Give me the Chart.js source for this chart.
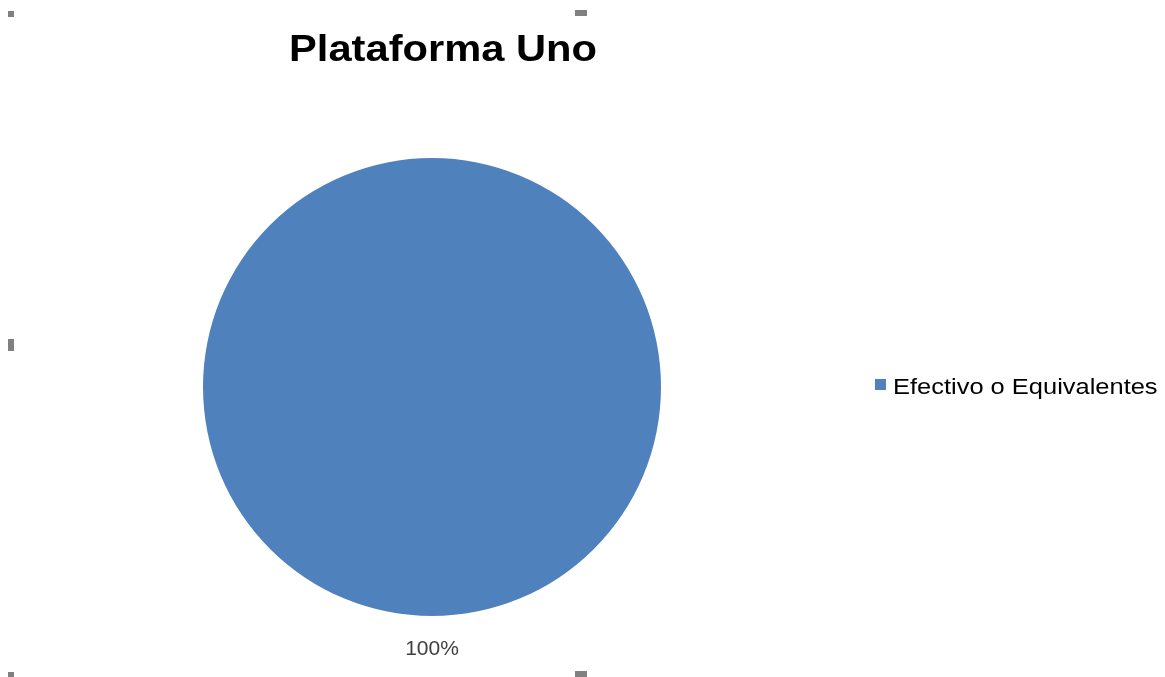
<!DOCTYPE html>
<html lang="es">
<head>
<meta charset="utf-8">
<title>Plataforma Uno</title>
<script src="https://cdn.jsdelivr.net/npm/chart.js@4/dist/chart.umd.min.js"></script>
<style>
    html, body { margin: 0; padding: 0; background: #fff; }
    #wrap { position: relative; width: 1165px; height: 677px; }
    .handle { position: absolute; background: #808080; }
</style>
</head>
<body>
<div id="wrap">
    <canvas id="pieChart"></canvas>
    <!-- tiradores de selección del gráfico -->
    <div class="handle" style="left:8px;top:11px;width:6px;height:6px"></div>
    <div class="handle" style="left:575px;top:10px;width:12px;height:6px"></div>
    <div class="handle" style="left:8px;top:339px;width:6px;height:12px"></div>
    <div class="handle" style="left:8px;top:672px;width:6px;height:6px"></div>
    <div class="handle" style="left:575px;top:671px;width:12px;height:6px"></div>
</div>
<script>
const chartTitle = 'Plataforma Uno';
const categories = ['Efectivo o Equivalentes'];
const values = [100];
const sliceColors = ['#4F81BD'];

// Título, leyenda y etiqueta de porcentaje dibujados a mano (estilo Excel)
const excelDecor = {
    id: 'excelDecor',
    afterDraw(chart) {
        const ctx = chart.ctx;
        const arcs = chart.getDatasetMeta(0).data;
        const total = values.reduce((a, b) => a + b, 0);

        // título
        ctx.save();
        ctx.fillStyle = '#000';
        ctx.font = 'bold 36px "Liberation Sans", Arial, sans-serif';
        ctx.textAlign = 'center';
        ctx.textBaseline = 'alphabetic';
        ctx.translate(443, 61);
        ctx.scale(1.157, 1);
        ctx.fillText(chartTitle, 0, 0);
        ctx.restore();

        // leyenda a la derecha
        categories.forEach((cat, i) => {
            const y = 379 + i * 30;
            ctx.save();
            ctx.fillStyle = sliceColors[i];
            ctx.fillRect(875, y, 11, 11);
            ctx.fillStyle = '#000';
            ctx.font = '22px "Liberation Sans", Arial, sans-serif';
            ctx.textAlign = 'left';
            ctx.textBaseline = 'alphabetic';
            ctx.translate(893, y + 15);
            ctx.scale(1.157, 1);
            ctx.fillText(cat, 0, 0);
            ctx.restore();
        });

        // etiqueta de porcentaje debajo del sector
        arcs.forEach((arc, i) => {
            const pct = Math.round(values[i] / total * 100) + '%';
            ctx.save();
            ctx.fillStyle = '#404040';
            ctx.font = '21px "Liberation Sans", Arial, sans-serif';
            ctx.textAlign = 'center';
            ctx.textBaseline = 'alphabetic';
            ctx.fillText(pct, arc.x, arc.y + arc.outerRadius + 39);
            ctx.restore();
        });
    }
};

new Chart(document.getElementById('pieChart'), {
    type: 'pie',
    data: {
        labels: categories,
        datasets: [{
            data: values,
            backgroundColor: sliceColors,
            borderWidth: 0
        }]
    },
    options: {
        responsive: true,
        maintainAspectRatio: false,
        animation: false,
        layout: { padding: { left: 203, top: 158, right: 504, bottom: 61 } },
        plugins: {
            legend: { display: false },
            title: { display: false },
            tooltip: { enabled: false }
        }
    },
    plugins: [excelDecor]
});
</script>
</body>
</html>
